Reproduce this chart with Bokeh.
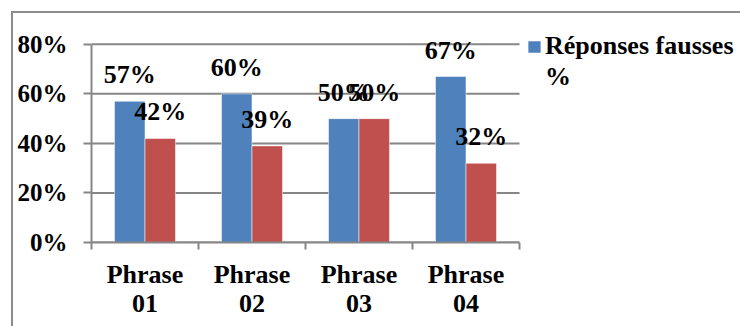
import numpy as np
from bokeh.plotting import figure
from bokeh.models import (Range1d, LinearAxis, FixedTicker, PrintfTickFormatter, ColumnDataSource,
                          LabelSet, Legend, LegendItem, Grid, InlineStyleSheet)
from bokeh.embed import file_html
from bokeh.resources import INLINE

categories = ["Phrase\n01", "Phrase\n02", "Phrase\n03", "Phrase\n04"]
fausses = [57, 60, 50, 67]
justes = [42, 39, 50, 32]
y_ticks = [0, 20, 40, 60, 80]
legend_lines = ["Réponses fausses", "%"]

FONT = "Liberation Serif"
GREY = "#868686"
BLUE = "#4F81BD"
RED = "#C0504D"
BAR_W = 0.285

W, H = 740, 326
LEFT, TOP, PLOT_W, PLOT_H = 91, 24, 428, 218
n = len(categories)
x_end = n * (W - LEFT) / PLOT_W  # frame extends to the right edge; categories occupy PLOT_W

centers = np.arange(n) + 0.5
src = ColumnDataSource(dict(
    xf=centers - BAR_W / 2, xj=centers + BAR_W / 2, f=fausses, j=justes,
    fl=[f"{v}%" for v in fausses], jl=[f"{v}%" for v in justes],
))
grid_src = ColumnDataSource(dict(y=y_ticks, x0=[0] * len(y_ticks), x1=[n] * len(y_ticks)))

p = figure(width=W, height=H,
           x_range=Range1d(0, x_end), y_range=Range1d(0, 88),
           x_axis_location=None, y_axis_location=None,
           output_backend="svg", toolbar_location=None,
           min_border_left=LEFT, min_border_right=0, min_border_top=TOP,
           min_border_bottom=H - TOP - PLOT_H)
p.outline_line_color = None
p.center = [r for r in p.center if not isinstance(r, Grid)]
p.stylesheets = [InlineStyleSheet(css=(
    ":host { position: relative; overflow: hidden; }"
    ":host::after { content: ''; position: absolute; left: 11px; top: 11px;"
    " width: 2000px; height: 2000px; border: 2px solid #8c8c8c; pointer-events: none; }"
))]

# horizontal grid lines (only across the category area)
p.segment(x0="x0", x1="x1", y0="y", y1="y", source=grid_src, line_color=GREY, line_width=2)

# y axis
yax = LinearAxis(ticker=FixedTicker(ticks=y_ticks), formatter=PrintfTickFormatter(format="%d%%"),
                 bounds=(y_ticks[0], y_ticks[-1]))
yax.axis_line_color = GREY
yax.axis_line_width = 2
yax.major_tick_line_color = GREY
yax.major_tick_line_width = 2
yax.major_tick_in = 0
yax.major_tick_out = 8
yax.minor_tick_line_color = None
yax.major_label_text_font = FONT
yax.major_label_text_font_style = "bold"
yax.major_label_text_font_size = "25px"
yax.major_label_text_color = "black"
yax.major_label_standoff = 16
p.add_layout(yax, "left")

# x axis: tick marks at category edges
tax = LinearAxis(ticker=FixedTicker(ticks=list(range(n + 1))), bounds=(0, n))
tax.major_label_text_font_size = "1px"
tax.major_label_text_alpha = 0
tax.major_label_standoff = 0
tax.axis_line_color = GREY
tax.axis_line_width = 2
tax.major_tick_line_color = GREY
tax.major_tick_line_width = 2
tax.major_tick_in = 0
tax.major_tick_out = 7
tax.minor_tick_line_color = None
p.add_layout(tax, "below")

# category labels at centers
cax = LinearAxis(ticker=FixedTicker(ticks=list(centers)),
                 major_label_overrides={float(c): lab for c, lab in zip(centers, categories)})
cax.axis_line_color = None
cax.major_tick_line_color = None
cax.major_tick_out = 0
cax.major_tick_in = 0
cax.minor_tick_line_color = None
cax.major_label_standoff = 10
cax.major_label_text_font = FONT
cax.major_label_text_font_style = "bold"
cax.major_label_text_font_size = "26px"
cax.major_label_text_color = "black"
cax.major_label_text_line_height = 1.0
p.add_layout(cax, "below")

bf = p.vbar(x="xf", top="f", width=BAR_W, source=src,
            fill_color=BLUE, line_color="white", line_alpha=0.5, line_width=1)
bj = p.vbar(x="xj", top="j", width=BAR_W, source=src,
            fill_color=RED, line_color="white", line_alpha=0.5, line_width=1)
# invisible renderer used only to carry the legend's second text line
ghost = p.vbar(x=[], top=[], width=BAR_W, fill_alpha=0, line_alpha=0)

for xcol, col, lab in (("xf", "f", "fl"), ("xj", "j", "jl")):
    p.add_layout(LabelSet(x=xcol, y=col, text=lab, source=src,
                          text_align="center", text_baseline="alphabetic", y_offset=18,
                          text_font=FONT, text_font_style="bold", text_font_size="26px",
                          text_color="black"))

legend = Legend(items=[LegendItem(label=legend_lines[0], renderers=[bf]),
                       LegendItem(label=legend_lines[1], renderers=[ghost])],
                location=(435, 150))
legend.border_line_color = None
legend.background_fill_alpha = 0
legend.padding = 0
legend.margin = 0
legend.spacing = 1
legend.glyph_width = 16
legend.glyph_height = 15
legend.label_standoff = 3
legend.label_text_font = FONT
legend.label_text_font_style = "bold"
legend.label_text_font_size = "26px"
legend.label_text_color = "black"
p.add_layout(legend, "center")

open("out.html", "w").write(file_html(p, INLINE))
